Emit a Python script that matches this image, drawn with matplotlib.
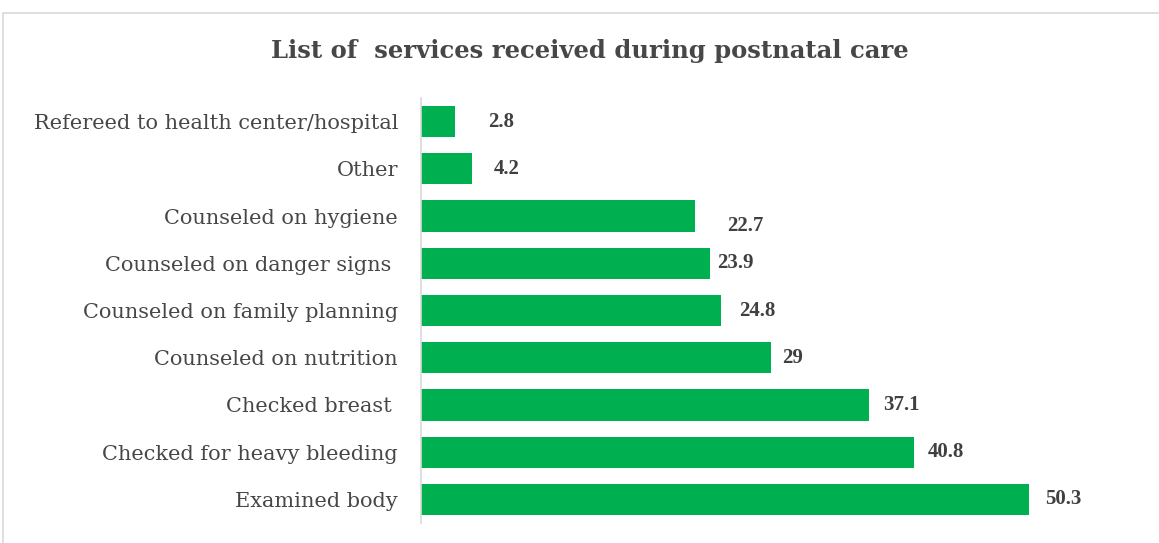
import matplotlib
matplotlib.use("Agg")
import matplotlib.pyplot as plt
from matplotlib.patches import Rectangle

categories = [
    "Examined body",
    "Checked for heavy bleeding",
    "Checked breast ",
    "Counseled on nutrition",
    "Counseled on family planning",
    "Counseled on danger signs ",
    "Counseled on hygiene",
    "Other",
    "Refereed to health center/hospital",
]
values = [50.3, 40.8, 37.1, 29, 24.8, 23.9, 22.7, 4.2, 2.8]
value_labels = ["50.3", "40.8", "37.1", "29", "24.8", "23.9", "22.7", "4.2", "2.8"]
title = "List of  services received during postnatal care"

# label nudges in points (x, y) so the numbers sit as in the source layout
label_dx = [12, 10, 10, 8, 13, 5, 23, 16, 24]
label_dy = [0, 0, 0, 0, 0, 0, -7, 0, 0]

W, H, DPI = 1159, 543, 100
fig = plt.figure(figsize=(W / DPI, H / DPI), dpi=DPI)
fig.patch.set_facecolor("white")

# outer chart frame
fig.patches.append(Rectangle((3 / W, -0.05), 1.1, (H - 13) / H + 0.05,
                             transform=fig.transFigure, fill=False,
                             edgecolor="#d9d9d9", linewidth=1.2))

ax = fig.add_axes([421 / W, 1 - 523 / H, (1146 - 421) / W, (523 - 98) / H])
ypos = list(range(len(categories)))
ax.barh(ypos, values, height=0.66, color="#00B050", edgecolor="none")
ax.set_xlim(0, 60)
ax.set_ylim(-0.5, len(categories) - 0.5)

serif = ["Liberation Serif", "DejaVu Serif"]
wide_serif = ["DejaVu Serif"]
ax.set_yticks(ypos)
ax.set_yticklabels(categories, fontfamily=wide_serif, fontsize=15, color="#474747")
ax.tick_params(axis="y", length=0, pad=16.5)
ax.set_xticks([])
for s in ["top", "right", "bottom"]:
    ax.spines[s].set_visible(False)
ax.spines["left"].set_color("#d9d9d9")
ax.spines["left"].set_linewidth(1.2)

for y, v, lab, dx, dy in zip(ypos, values, value_labels, label_dx, label_dy):
    ax.annotate(lab, (v, y), xytext=(dx, dy), textcoords="offset points",
                ha="left", va="center", fontfamily=serif, fontsize=15,
                fontweight="bold", color="#404040")

fig.text(590 / W, 1 - 51 / H, title, ha="center", va="center",
         fontfamily=wide_serif, fontsize=17.5, fontweight="bold", color="#474747")

fig.savefig("out.png", dpi=DPI)
